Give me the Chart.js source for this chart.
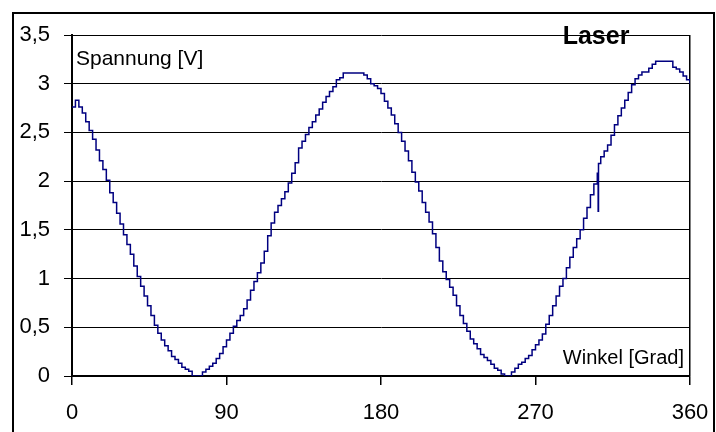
<!DOCTYPE html>
<html>
<head>
<meta charset="utf-8">
<title>Laser</title>
<script src="https://cdn.jsdelivr.net/npm/chart.js@4.4.1/dist/chart.umd.min.js"></script>
<style>
  html, body { margin: 0; padding: 0; background: #fff; overflow: hidden; }
  #wrap { position: relative; width: 716px; height: 432px; }
  #frame {
    position: absolute; left: 12px; top: 12px; width: 699px; height: 440px;
    border: 2px solid #000; pointer-events: none;
  }
  canvas { position: absolute; left: 0; top: 0; }
</style>
</head>
<body>
<div id="wrap">
  <canvas id="chart-laser" width="716" height="432"></canvas>
  <div id="frame"></div>
</div>
<script>
var winkel = [
  0, 2, 4, 6, 8, 10, 12, 14, 16, 18, 20, 22, 24, 26, 28, 30, 32, 34, 36, 38,
  40, 42, 44, 46, 48, 50, 52, 54, 56, 58, 60, 62, 64, 66, 68, 70, 72, 74, 76, 78,
  80, 82, 84, 86, 88, 90, 92, 94, 96, 98, 100, 102, 104, 106, 108, 110, 112, 114, 116, 118,
  120, 122, 124, 126, 128, 130, 132, 134, 136, 138, 140, 142, 144, 146, 148, 150, 152, 154, 156, 158,
  160, 162, 164, 166, 168, 170, 172, 174, 176, 178, 180, 182, 184, 186, 188, 190, 192, 194, 196, 198,
  200, 202, 204, 206, 208, 210, 212, 214, 216, 218, 220, 222, 224, 226, 228, 230, 232, 234, 236, 238,
  240, 242, 244, 246, 248, 250, 252, 254, 256, 258, 260, 262, 264, 266, 268, 270, 272, 274, 276, 278,
  280, 282, 284, 286, 288, 290, 292, 294, 296, 298, 300, 302, 304, 306, 306.5, 306.7, 308, 310, 312, 314,
  316, 318, 320, 322, 324, 326, 328, 330, 332, 334, 336, 338, 340, 342, 344, 346, 348, 350, 352, 354,
  356, 358, 360
];
var spannung = [
  2.76, 2.83, 2.76, 2.70, 2.61, 2.52, 2.43, 2.32, 2.21, 2.12, 2.01, 1.88, 1.78, 1.67, 1.56, 1.45, 1.35, 1.25, 1.13, 1.02,
  0.92, 0.82, 0.72, 0.62, 0.52, 0.44, 0.37, 0.31, 0.26, 0.20, 0.17, 0.13, 0.09, 0.07, 0.05, 0.00, 0.00, 0.00, 0.04, 0.07,
  0.10, 0.13, 0.18, 0.23, 0.30, 0.37, 0.44, 0.51, 0.57, 0.62, 0.69, 0.78, 0.88, 0.97, 1.06, 1.16, 1.28, 1.44, 1.57, 1.68,
  1.75, 1.82, 1.89, 1.98, 2.08, 2.19, 2.34, 2.41, 2.48, 2.55, 2.61, 2.68, 2.74, 2.81, 2.87, 2.92, 2.97, 3.04, 3.06, 3.11,
  3.11, 3.11, 3.11, 3.11, 3.11, 3.09, 3.05, 3.00, 2.98, 2.95, 2.90, 2.82, 2.75, 2.68, 2.59, 2.50, 2.41, 2.31, 2.21, 2.09,
  1.99, 1.90, 1.78, 1.68, 1.58, 1.46, 1.32, 1.18, 1.07, 0.99, 0.91, 0.83, 0.72, 0.62, 0.54, 0.46, 0.38, 0.33, 0.28, 0.22,
  0.19, 0.16, 0.12, 0.08, 0.06, 0.02, 0.00, 0.00, 0.04, 0.08, 0.12, 0.14, 0.18, 0.21, 0.27, 0.32, 0.37, 0.43, 0.53, 0.62,
  0.72, 0.82, 0.92, 1.00, 1.11, 1.22, 1.32, 1.41, 1.50, 1.62, 1.73, 1.86, 1.97, 2.08, 1.69, 2.18, 2.25, 2.31, 2.37, 2.47,
  2.58, 2.67, 2.75, 2.83, 2.91, 2.99, 3.05, 3.09, 3.12, 3.12, 3.16, 3.20, 3.23, 3.23, 3.23, 3.23, 3.23, 3.17, 3.15, 3.12,
  3.08, 3.04, 3.00
];
var xTicks = [0, 90, 180, 270, 360];
var yTicks = [0, 0.5, 1, 1.5, 2, 2.5, 3, 3.5];

(function () {
  var font = "'Liberation Sans', Arial, sans-serif";

  var points = winkel.map(function (w, i) {
    return { x: w, y: spannung[i] };
  });

  // Beschriftungen im Diagramm
  var labelsPlugin = {
    id: "laserLabels",
    afterDraw: function (chart) {
      var ctx = chart.ctx;
      var a = chart.chartArea;
      ctx.save();
      ctx.fillStyle = "#000";
      ctx.textBaseline = "alphabetic";
      ctx.font = "21px " + font;
      ctx.textAlign = "left";
      ctx.fillText("Spannung [V]", a.left + 4, a.top + 30);
      ctx.font = "20px " + font;
      ctx.textAlign = "right";
      ctx.fillText("Winkel [Grad]", a.right - 6, a.bottom - 12);
      ctx.font = "bold 25px " + font;
      ctx.textAlign = "center";
      ctx.fillText("Laser", a.right - 94, a.top + 9);
      ctx.restore();
    },
  };

  new Chart(document.getElementById("chart-laser"), {
    type: "line",
    data: {
      datasets: [
        {
          label: "Spannung",
          data: points,
          borderColor: "#000080",
          borderWidth: 1.5,
          pointRadius: 0,
          stepped: true,
          fill: false,
        },
      ],
    },
    options: {
      responsive: false,
      animation: false,
      devicePixelRatio: 1,
      layout: { padding: { top: 35, right: 26, left: 0, bottom: 0 } },
      plugins: { legend: { display: false }, tooltip: { enabled: false } },
      scales: {
        x: {
          type: "linear",
          min: 0,
          max: 360,
          afterBuildTicks: function (scale) {
            scale.ticks = xTicks.map(function (v) { return { value: v }; });
          },
          afterFit: function (scale) {
            scale.height = 56;
            scale.paddingLeft = 0;
            scale.paddingRight = 0;
          },
          ticks: {
            color: "#000",
            padding: 15,
            maxRotation: 0,
            font: { family: font, size: 22 },
          },
          grid: {
            color: function (c) {
              return c.tick && c.tick.value === 360 ? "#000" : "rgba(0,0,0,0)";
            },
            tickColor: "#000",
            tickLength: 9,
            lineWidth: 1.5,
          },
          border: { color: "#000", width: 1.5 },
        },
        y: {
          min: 0,
          max: 3.5,
          afterBuildTicks: function (scale) {
            scale.ticks = yTicks.map(function (v) { return { value: v }; });
          },
          afterFit: function (scale) {
            scale.width = 72;
            scale.paddingTop = 0;
            scale.paddingBottom = 0;
          },
          ticks: {
            color: "#000",
            padding: 14,
            font: { family: font, size: 22 },
            callback: function (v) { return String(v).replace(".", ","); },
          },
          grid: { color: "#000", tickColor: "#000", tickLength: 8, lineWidth: 1 },
          border: { color: "#000", width: 2 },
        },
      },
    },
    plugins: [labelsPlugin],
  });
})();
</script>
</body>
</html>
